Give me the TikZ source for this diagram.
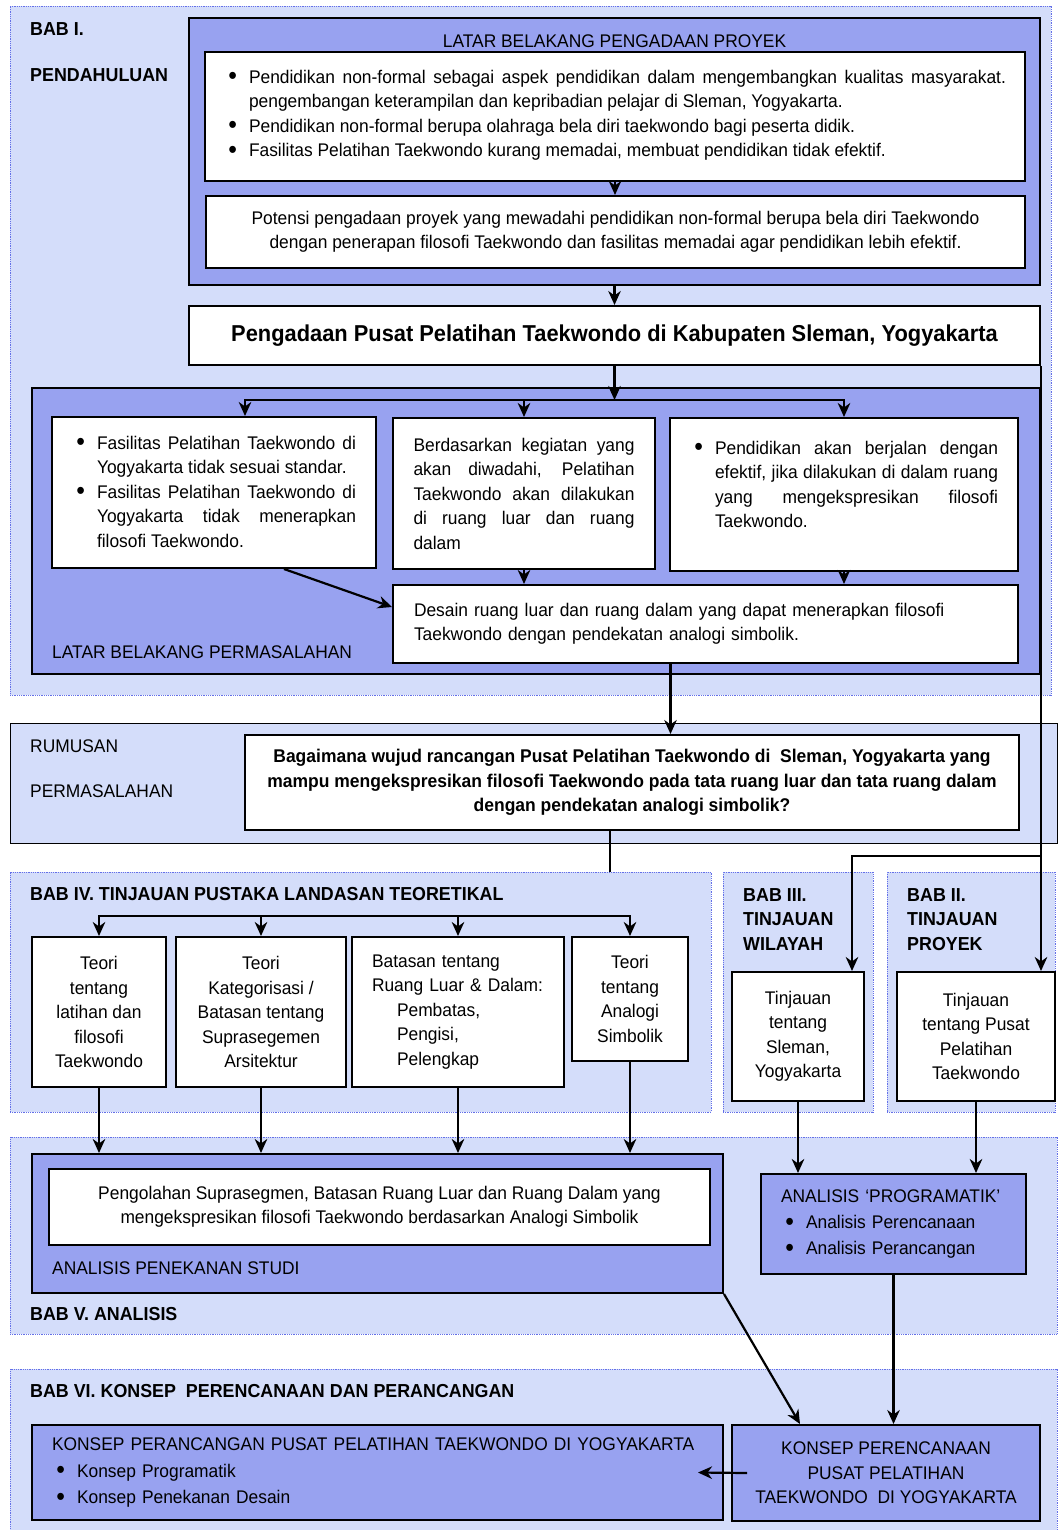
\documentclass[tikz,border=0pt]{standalone}
\usepackage{fontspec}
\setmainfont{Liberation Sans}[FakeStretch=0.95]
\usepackage{enumitem}
\usetikzlibrary{arrows.meta,fit}
\setlist[itemize]{nosep,leftmargin=25pt,labelsep=12pt,label=\raisebox{-1.6pt}{\fontsize{26}{26}\selectfont\textbullet}}
\definecolor{panelblue}{RGB}{212,221,250}
\definecolor{panelline}{RGB}{100,112,232}
\definecolor{boxblue}{RGB}{152,162,240}

\begin{document}
\begin{tikzpicture}[x=1pt, y=-1pt, font=\fontsize{18.3}{24.5}\selectfont]
\tikzstyle{panel} = [draw=panelline, densely dotted, line width=0.8pt, fill=panelblue, inner sep=0pt]
\tikzstyle{bluebox} = [draw, line width=2pt, fill=boxblue, inner sep=0pt]
\tikzstyle{whitebox} = [draw, line width=2pt, fill=white, inner sep=0pt]
\tikzstyle{arrow} = [line width=2.2pt,->,>={Stealth[length=14pt,width=12.5pt,inset=4.5pt]}]
\tikzstyle{link} = [line width=2.2pt]
\tikzstyle{heading} = [font=\fontsize{18.8}{24.5}\selectfont\bfseries, anchor=base west, inner sep=0pt]
\tikzstyle{caption} = [anchor=base west, inner sep=0pt]

\path[fill=white, use as bounding box] (0,0) rectangle (1057,1530);

\node[panel, fit={(10,6) (1051,695)}] (bab1) {};
\node[panel, draw=black, solid, fit={(10,723) (1057,843)}] (rumusan) {};
\node[panel, fit={(10,872) (711,1112)}] (bab4) {};
\node[panel, fit={(723,872) (873,1112)}] (bab3) {};
\node[panel, fit={(887,872) (1055,1112)}] (bab2) {};
\node[panel, fit={(10,1137) (1057,1334)}] (bab5) {};
\node[panel, fit={(10,1369) (1057,1530)}] (bab6) {};

\node[heading] (h1) at (30,35.8) {BAB I.};
\node[heading] (h1b) at (30,81.7) {PENDAHULUAN};
\node[bluebox, minimum width=851pt, minimum height=267pt] (pengadaan) at (614.5,151.5) {};
\node[anchor=base, inner sep=0pt] (tpengadaan) at (614.5,47.5) {LATAR BELAKANG PENGADAAN PROYEK};
\node[whitebox, minimum width=820pt, minimum height=129pt, text width=782pt, align=justify] (alasan) at (615,116.5) {\vspace*{-14pt}\begin{itemize}
\item Pendidikan non-formal sebagai aspek pendidikan dalam mengembangkan kualitas masyarakat.\linebreak pengembangan keterampilan dan kepribadian pelajar di Sleman, Yogyakarta.
\item Pendidikan non-formal berupa olahraga bela diri taekwondo bagi peserta didik.
\item Fasilitas Pelatihan Taekwondo kurang memadai, membuat pendidikan tidak efektif.
\end{itemize}};
\node[whitebox, minimum width=819pt, minimum height=72pt, align=center] (potensi) at (615.5,232) {Potensi pengadaan proyek yang mewadahi pendidikan non-formal berupa bela diri Taekwondo\\dengan penerapan filosofi Taekwondo dan fasilitas memadai agar pendidikan lebih efektif.};
\node[whitebox, minimum width=851pt, minimum height=59pt, font=\fontsize{23}{28}\selectfont\bfseries] (judul) at (614.5,335.5) {Pengadaan Pusat Pelatihan Taekwondo di Kabupaten Sleman, Yogyakarta};

\node[bluebox, minimum width=1008pt, minimum height=286pt] (permasalahan) at (536,531) {};
\node[caption] (tpermasalahan) at (52,658.5) {LATAR BELAKANG PERMASALAHAN};
\node[whitebox, minimum width=324pt, minimum height=151pt, text width=284pt, align=justify] (fakta) at (214,492.5) {\vspace*{-13pt}\begin{itemize}
\item Fasilitas Pelatihan Taekwondo di\linebreak Yogyakarta tidak sesuai standar.
\item Fasilitas Pelatihan Taekwondo di\linebreak Yogyakarta tidak menerapkan\linebreak filosofi Taekwondo.
\end{itemize}};
\node[whitebox, minimum width=262pt, minimum height=151pt, text width=221pt, align=justify] (kegiatan) at (524,493.5) {Berdasarkan kegiatan yang\linebreak akan diwadahi, Pelatihan\linebreak Taekwondo akan dilakukan\linebreak di ruang luar dan ruang\linebreak dalam};
\node[whitebox, minimum width=348pt, minimum height=153pt, text width=308pt, align=justify] (efektif) at (844,494.5) {\begin{itemize}
\item Pendidikan akan berjalan dengan\linebreak efektif, jika dilakukan di dalam ruang\linebreak yang mengekspresikan filosofi\linebreak Taekwondo.
\end{itemize}\par\strut};
\node[whitebox, minimum width=625pt, minimum height=78pt, text width=583pt, align=left] (desain) at (705.5,624) {Desain ruang luar dan ruang dalam yang dapat menerapkan filosofi\\Taekwondo dengan pendekatan analogi simbolik.};

\node[caption] (trumusan) at (30,752.9) {RUMUSAN};
\node[caption] (trumusan2) at (30,797.9) {PERMASALAHAN};
\node[whitebox, minimum width=774pt, minimum height=95pt, align=center, font=\fontsize{18.4}{24.3}\selectfont\bfseries] (pertanyaan) at (632,782.5) {Bagaimana wujud rancangan Pusat Pelatihan Taekwondo di~ Sleman, Yogyakarta yang\\mampu mengekspresikan filosofi Taekwondo pada tata ruang luar dan tata ruang dalam\\dengan pendekatan analogi simbolik?};

\node[heading] (h4) at (30,900.7) {BAB IV. TINJAUAN PUSTAKA LANDASAN TEORETIKAL};
\node[whitebox, minimum width=134pt, minimum height=150pt, align=center] (teori1) at (99,1012) {Teori\\tentang\\latihan dan\\filosofi\\Taekwondo};
\node[whitebox, minimum width=170pt, minimum height=150pt, align=center] (teori2) at (261,1012) {Teori\\Kategorisasi /\\Batasan tentang\\Suprasegemen\\Arsitektur};
\node[whitebox, minimum width=212pt, minimum height=150pt, text width=172pt, align=left] (teori3) at (458,1012) {Batasan tentang\\Ruang Luar \& Dalam:\\\hspace*{25pt}Pembatas,\\\hspace*{25pt}Pengisi,\\\hspace*{25pt}Pelengkap};
\node[whitebox, minimum width=116pt, minimum height=124pt, align=center] (teori4) at (630,999) {Teori\\tentang\\Analogi\\Simbolik};

\node[heading, anchor=north west, align=left] (h3) at (743,888.3) {BAB III.\\TINJAUAN\\WILAYAH};
\node[whitebox, minimum width=132pt, minimum height=129pt, align=center] (wilayah) at (798,1036.5) {Tinjauan\\tentang\\Sleman,\\Yogyakarta};
\node[heading, anchor=north west, align=left] (h2) at (907,888.3) {BAB II.\\TINJAUAN\\PROYEK};
\node[whitebox, minimum width=158pt, minimum height=129pt, align=center] (proyek) at (976,1036.5) {Tinjauan\\tentang Pusat\\Pelatihan\\Taekwondo};

\node[bluebox, minimum width=691pt, minimum height=139pt] (penekanan) at (377.5,1223.5) {};
\node[whitebox, minimum width=661pt, minimum height=76pt, align=center] (pengolahan) at (379.5,1207) {Pengolahan Suprasegmen, Batasan Ruang Luar dan Ruang Dalam yang\\mengekspresikan filosofi Taekwondo berdasarkan Analogi Simbolik};
\node[caption] (tpenekanan) at (52,1274.5) {ANALISIS PENEKANAN STUDI};
\node[heading] (h5) at (30,1320.7) {BAB V. ANALISIS};
\node[bluebox, minimum width=265pt, minimum height=100pt, text width=225pt, align=left, font=\fontsize{18.3}{26}\selectfont] (programatik) at (893.5,1224) {ANALISIS ‘PROGRAMATIK’
\begin{itemize}
\item Analisis Perencanaan
\item Analisis Perancangan
\end{itemize}};

\node[heading] (h6) at (30,1397.7) {BAB VI. KONSEP~ PERENCANAAN DAN PERANCANGAN};
\node[bluebox, minimum width=691pt, minimum height=95pt, text width=651pt, align=left, font=\fontsize{18.3}{26.5}\selectfont] (perancangan) at (377.5,1472.5) {KONSEP PERANCANGAN PUSAT PELATIHAN TAEKWONDO DI YOGYAKARTA
\begin{itemize}
\item Konsep Programatik
\item Konsep Penekanan Desain
\end{itemize}};
\node[bluebox, minimum width=308pt, minimum height=96pt, align=center] (perencanaan) at (886,1473) {KONSEP PERENCANAAN\\PUSAT PELATIHAN\\TAEKWONDO~ DI YOGYAKARTA};

\draw[arrow] (alasan.south) -- (alasan.south |- potensi.north);
\draw[arrow] (pengadaan.south) -- (judul.north);
\coordinate (cabang1) at (614.5,400);
\draw[arrow] (judul.south) -- (cabang1);
\draw[arrow] (cabang1) -| ([xshift=31pt]fakta.north);
\draw[arrow] (cabang1) -| (kegiatan.north);
\draw[arrow] (cabang1) -| (efektif.north);
\draw[arrow] ([xshift=70pt]fakta.south) -- ([yshift=17pt]desain.west);
\draw[arrow] (kegiatan.south) -- (kegiatan.south |- desain.north);
\draw[arrow] (efektif.south) -- (efektif.south |- desain.north);
\draw[arrow] ([xshift=-35pt]desain.south) -- ([xshift=-35pt]desain.south |- pertanyaan.north);
\draw[link] ([xshift=-22pt]pertanyaan.south) -- ([xshift=-22pt]pertanyaan.south |- bab4.north);
\draw[arrow] (judul.south east) -- (judul.south east |- proyek.north);
\coordinate (cabang2) at (1040,856);
\draw[arrow] (cabang2) -| ([xshift=54pt]wilayah.north);
\coordinate (cabang4) at (365,916);
\draw[arrow] (cabang4) -| (teori1.north);
\draw[arrow] (cabang4) -| (teori2.north);
\draw[arrow] (cabang4) -| (teori3.north);
\draw[arrow] (cabang4) -| (teori4.north);
\draw[arrow] (teori1.south) -- (teori1.south |- penekanan.north);
\draw[arrow] (teori2.south) -- (teori2.south |- penekanan.north);
\draw[arrow] (teori3.south) -- (teori3.south |- penekanan.north);
\draw[arrow] (teori4.south) -- (teori4.south |- penekanan.north);
\draw[arrow] (wilayah.south) -- (wilayah.south |- programatik.north);
\draw[arrow] (proyek.south) -- (proyek.south |- programatik.north);
\draw[arrow] (penekanan.south east) -- ([xshift=-86pt]perencanaan.north);
\draw[arrow] (programatik.south) -- (programatik.south |- perencanaan.north);
\draw[arrow] ([xshift=16pt]perencanaan.west) -- ([xshift=-26pt]perancangan.east);
\end{tikzpicture}
\end{document}
